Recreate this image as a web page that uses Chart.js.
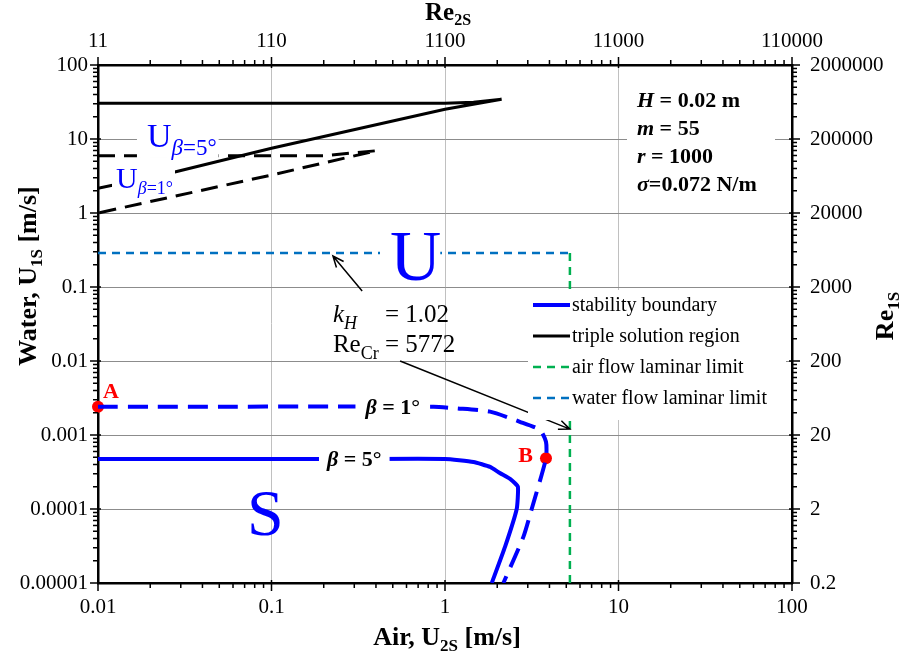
<!DOCTYPE html>
<html>
<head>
<meta charset="utf-8">
<script src="https://cdn.jsdelivr.net/npm/chart.js@4.4.1/dist/chart.umd.min.js"></script>
<style>
  html, body { margin: 0; padding: 0; background: #fff; }
</style>
</head>
<body>
<canvas id="myChart" width="900" height="657"></canvas>
<script>
// tick labels
const xTickLabels = ['0.01', '0.1', '1', '10', '100'];
const x2TickLabels = ['11', '110', '1100', '11000', '110000'];
const yTickLabels = ['0.00001', '0.0001', '0.001', '0.01', '0.1', '1', '10', '100'];
const y2TickLabels = ['0.2', '2', '20', '200', '2000', '20000', '200000', '2000000'];

// stability boundary, beta = 5 deg (solid)
const stab5X = [0.01, 0.3, 1.0, 1.46, 1.82, 2.07, 2.4, 2.63, 2.59, 2.22, 1.86];
const stab5Y = [0.000474, 0.000474, 0.000474, 0.000432, 0.00037, 0.000306, 0.00025, 0.0002, 0.0001, 0.000031, 0.00001];

// stability boundary, beta = 1 deg (dashed)
const stab1X = [0.01, 0.86, 1.17, 1.82, 2.7, 3.53, 3.82, 3.82, 3.16, 2.83, 2.17];
const stab1Y = [0.00241, 0.00241, 0.00229, 0.00207, 0.00151, 0.00117, 0.00081, 0.000484, 0.0001, 0.000042, 0.00001];

// triple solution region, beta = 5 deg (solid) and beta = 1 deg (dashed)
const triple5X = [0.01, 1.0, 1.46, 2.12, 1.0, 0.1, 0.0266, 0.01];
const triple5Y = [30.4, 30.4, 31.3, 34.4, 25.2, 7.5, 3.5, 2.16];
const triple1X = [0.01, 0.2, 0.404, 0.1, 0.01];
const triple1Y = [5.95, 5.95, 6.95, 3.26, 1.0];

// laminar limits (Re_Cr = 5772)
const airLimit = 5.247;     // U2S
const waterLimit = 0.2886;  // U1S
const waterX = [0.01, airLimit];
const waterY = [waterLimit, waterLimit];
const airX = [airLimit, airLimit];
const airY = [waterLimit, 0.00001];

// marked points
const pointNames = ['A', 'B'];
const pointX = [0.01, 3.82];
const pointY = [0.00241, 0.000484];

const SERIF = '"Liberation Serif", "Times New Roman", serif';

function xy(xs, ys) {
  return xs.map((v, i) => ({ x: v, y: ys[i] }));
}

function logTicks(base, decades) {
  let t = [];
  for (let d = 0; d < decades; d++) {
    for (let k = 1; k < 10; k++) t.push({ value: base * k * Math.pow(10, d) });
  }
  t.push({ value: base * Math.pow(10, decades) });
  return t;
}

function isMajor(v, base) {
  let e = Math.log10(v / base);
  return Math.abs(e - Math.round(e)) < 1e-6;
}

function logAxis(pos, base, decades, labels, size, pad, gridColor, onChart) {
  const vertical = pos == 'left' || pos == 'right';
  return {
    type: 'logarithmic',
    position: pos,
    axis: vertical ? 'y' : 'x',
    min: base,
    max: base * Math.pow(10, decades),
    afterBuildTicks: (s) => { s.ticks = logTicks(base, decades); },
    afterFit: (s) => { if (vertical) s.width = size; else s.height = size; },
    ticks: {
      autoSkip: false,
      maxRotation: 0,
      padding: pad,
      color: '#000',
      font: { family: SERIF, size: 21 },
      callback: (v) => isMajor(v, base) ? labels[Math.round(Math.log10(v / base))] : ''
    },
    grid: {
      drawOnChartArea: onChart,
      color: (c) => (c.tick && isMajor(c.tick.value, base)) ? gridColor : 'rgba(0,0,0,0)',
      tickColor: 'rgba(0,0,0,0)',
      tickLength: 6,
      lineWidth: 1
    },
    border: { display: true, color: '#000', width: 2.5 }
  };
}

// draws text made of parts [text, font, dy] and returns its width
function rich(ctx, parts, x, y, align) {
  let w = 0;
  parts.forEach((p) => { ctx.font = p[1]; w += ctx.measureText(p[0]).width; });
  let cx = align == 'center' ? x - w / 2 : x;
  parts.forEach((p) => {
    ctx.font = p[1];
    ctx.fillText(p[0], cx, y + (p[2] || 0));
    cx += ctx.measureText(p[0]).width;
  });
  return w;
}

function arrow(ctx, x1, y1, x2, y2) {
  let a = Math.atan2(y2 - y1, x2 - x1);
  ctx.beginPath();
  ctx.moveTo(x1, y1);
  ctx.lineTo(x2, y2);
  ctx.moveTo(x2 - 12 * Math.cos(a - 0.4), y2 - 12 * Math.sin(a - 0.4));
  ctx.lineTo(x2, y2);
  ctx.lineTo(x2 - 12 * Math.cos(a + 0.4), y2 - 12 * Math.sin(a + 0.4));
  ctx.stroke();
}

const B = (s) => 'bold ' + s + 'px ' + SERIF;
const BI = (s) => 'italic bold ' + s + 'px ' + SERIF;
const R = (s) => s + 'px ' + SERIF;
const I = (s) => 'italic ' + s + 'px ' + SERIF;

const overlay = {
  id: 'overlay',
  afterDatasetsDraw(chart) {
    const ctx = chart.ctx;
    const ca = chart.chartArea;
    const X = (v) => chart.scales.x.getPixelForValue(v);
    const Y = (v) => chart.scales.y.getPixelForValue(v);
    ctx.save();
    ctx.textBaseline = 'alphabetic';
    ctx.textAlign = 'left';

    // beta labels on the stability curves
    [['1°', 0.5, stab1Y[0], 10], ['5°', 0.3, stab5Y[0], 8]].forEach((l) => {
      let parts = [['β', BI(22)], [' = ' + l[0], B(22)]];
      let w = 0;
      parts.forEach((p) => { ctx.font = p[1]; w += ctx.measureText(p[0]).width; });
      let cx = X(l[1]), cy = Y(l[2]);
      ctx.fillStyle = '#fff';
      ctx.fillRect(cx - w / 2 - l[3], cy - 9, w + 2 * l[3], 18);
      ctx.fillStyle = '#000';
      rich(ctx, parts, cx, cy + 7, 'center');
    });

    // U_beta labels near the triple solution region
    [[0.01915, 7.8, '5°', 34, 23, 8, 10, 25, 11], [0.0127, 2.18, '1°', 30, 18, 6, 4, 22, 8]].forEach((l) => {
      let px = X(l[0]), py = Y(l[1]);
      let parts = [['U', R(l[3])], ['β', I(l[4]), l[5]], ['=' + l[2], R(l[4]), l[5]]];
      let w = 0;
      parts.forEach((p) => { ctx.font = p[1]; w += ctx.measureText(p[0]).width; });
      ctx.fillStyle = '#fff';
      ctx.fillRect(px - l[6], py - l[7], w + l[6] + 2, l[7] + l[8]);
      ctx.fillStyle = '#0000ff';
      rich(ctx, parts, px, py, 'left');
    });

    // big region letters
    ctx.font = R(71);
    let uw = ctx.measureText('U').width;
    ctx.fillStyle = '#fff';
    ctx.fillRect(X(0.482) - 10, Y(waterLimit) - 5, uw + 9, 10);
    ctx.fillStyle = '#0000ff';
    ctx.fillText('U', X(0.482), Y(0.124));
    ctx.font = R(66);
    ctx.fillText('S', X(0.0722), Y(0.0000445));

    // point names
    ctx.fillStyle = '#ff0000';
    ctx.font = B(22);
    ctx.fillText(pointNames[0], X(0.01069), Y(0.00316));
    ctx.fillText(pointNames[1], X(2.64), Y(0.000432));

    // k_H / Re_Cr note with arrows
    ctx.fillStyle = '#000';
    let tx = X(0.226), ty = Y(0.0337);
    rich(ctx, [['k', I(25)], ['H', I(18), 7]], tx, ty, 'left');
    rich(ctx, [['= 1.02', R(25)]], tx + 52, ty, 'left');
    rich(ctx, [['Re', R(25)], ['Cr', R(18), 7]], tx, ty + 30, 'left');
    rich(ctx, [['= 5772', R(25)]], tx + 52, ty + 30, 'left');
    ctx.strokeStyle = '#000';
    ctx.lineWidth = 1.5;
    arrow(ctx, X(0.333), Y(0.0883), X(0.226), Y(0.262));
    arrow(ctx, X(0.551), Y(0.01), X(airLimit), Y(0.0012));

    // parameter box
    ctx.fillStyle = '#fff';
    ctx.fillRect(ca.right - 165, ca.top + 20, 148, 113);
    ctx.fillStyle = '#000';
    const params = [['H', ' = 0.02 m'], ['m', ' = 55'], ['r', ' = 1000'], ['σ', '=0.072 N/m']];
    params.forEach((p, i) => {
      rich(ctx, [[p[0], BI(22)], [p[1], B(22)]], ca.right - 155, ca.top + 42 + i * 28, 'left');
    });

    // legend
    const lx = ca.right - 264, ly = ca.top + 225;
    ctx.fillStyle = '#fff';
    ctx.fillRect(lx, ly, 258, 130);
    [0, 2, 5, 4].forEach((di, i) => {
      const ds = chart.data.datasets[di];
      const yy = ly + 15 + i * 31;
      ctx.save();
      ctx.strokeStyle = ds.borderColor;
      ctx.lineWidth = ds.borderWidth;
      ctx.setLineDash(ds.borderDash || []);
      ctx.beginPath();
      ctx.moveTo(lx + 5, yy);
      ctx.lineTo(lx + 42, yy);
      ctx.stroke();
      ctx.restore();
      ctx.fillStyle = '#000';
      ctx.font = R(20);
      ctx.fillText(ds.label, lx + 44, yy + 6);
    });
    ctx.restore();
  },
  afterDraw(chart) {
    const ctx = chart.ctx;
    const ca = chart.chartArea;
    const sc = chart.scales;

    // tick marks, outward, longer at the decades
    ctx.save();
    ctx.strokeStyle = '#000';
    ctx.lineWidth = 1.5;
    ctx.beginPath();
    [['x', 0.01, 4, ca.bottom, 1], ['x2', 11, 4, ca.top, -1]].forEach((a) => {
      logTicks(a[1], a[2]).forEach((t) => {
        let p = sc[a[0]].getPixelForValue(t.value);
        let len = isMajor(t.value, a[1]) ? 8 : 5;
        ctx.moveTo(p, a[3] - (isMajor(t.value, a[1]) ? 3 * a[4] : 0));
        ctx.lineTo(p, a[3] + len * a[4]);
      });
    });
    [['y', 0.00001, 7, ca.left, -1], ['y2', 0.2, 7, ca.right, 1]].forEach((a) => {
      logTicks(a[1], a[2]).forEach((t) => {
        let p = sc[a[0]].getPixelForValue(t.value);
        let len = isMajor(t.value, a[1]) ? 8 : 5;
        ctx.moveTo(a[3] - (isMajor(t.value, a[1]) ? 3 * a[4] : 0), p);
        ctx.lineTo(a[3] + len * a[4], p);
      });
    });
    ctx.stroke();
    ctx.restore();

    // axis titles
    ctx.save();
    ctx.fillStyle = '#000';
    ctx.textBaseline = 'alphabetic';
    let mid = (ca.left + ca.right) / 2;
    rich(ctx, [['Air, U', B(26)], ['2S', B(17), 6], [' [m/s]', B(26)]], mid + 2, 645, 'center');
    rich(ctx, [['Re', B(25)], ['2S', B(16), 5]], mid + 3, 20, 'center');
    ctx.translate(36, 276);
    ctx.rotate(-Math.PI / 2);
    rich(ctx, [['Water, U', B(26)], ['1S', B(17), 6], [' [m/s]', B(26)]], 0, 0, 'center');
    ctx.restore();
    ctx.save();
    ctx.fillStyle = '#000';
    ctx.translate(893, 316);
    ctx.rotate(-Math.PI / 2);
    rich(ctx, [['Re', B(26)], ['1S', B(17), 6]], 0, 0, 'center');
    ctx.restore();
  }
};

const data = {
  datasets: [
    { label: 'stability boundary', data: xy(stab5X, stab5Y), borderColor: '#0000ff', borderWidth: 4, tension: 0.15 },
    { label: 'stability boundary b1', data: xy(stab1X, stab1Y), borderColor: '#0000ff', borderWidth: 4, borderDash: [20, 10], tension: 0.2 },
    { label: 'triple solution region', data: xy(triple5X, triple5Y), borderColor: '#000000', borderWidth: 3 },
    { label: 'triple b1', data: xy(triple1X, triple1Y), borderColor: '#000000', borderWidth: 3, borderDash: [17, 9] },
    { label: 'water flow laminar limit', data: xy(waterX, waterY), borderColor: '#0070c0', borderWidth: 2.5, borderDash: [8, 6] },
    { label: 'air flow laminar limit', data: xy(airX, airY), borderColor: '#00b050', borderWidth: 2.5, borderDash: [8, 6] },
    { label: 'points', data: xy(pointX, pointY), showLine: false, pointRadius: 6, pointBackgroundColor: '#ff0000', pointBorderWidth: 0, clip: false }
  ].map((d) => Object.assign({ showLine: true, pointRadius: 0, fill: false, xAxisID: 'x', yAxisID: 'y' }, d))
};

const config = {
  type: 'scatter',
  data,
  options: {
    responsive: false,
    animation: false,
    devicePixelRatio: 1,
    layout: { padding: 0 },
    plugins: { legend: { display: false }, tooltip: { enabled: false } },
    scales: {
      x: logAxis('bottom', 0.01, 4, xTickLabels, 74, 6, '#c0c0c0', true),
      x2: logAxis('top', 11, 4, x2TickLabels, 65, 5, '#c0c0c0', false),
      y: logAxis('left', 0.00001, 7, yTickLabels, 98, 4, '#8c8c8c', true),
      y2: logAxis('right', 0.2, 7, y2TickLabels, 108, 12, '#8c8c8c', false)
    }
  },
  plugins: [overlay]
};

var myChart = new Chart(document.getElementById('myChart'), config);
</script>
</body>
</html>
